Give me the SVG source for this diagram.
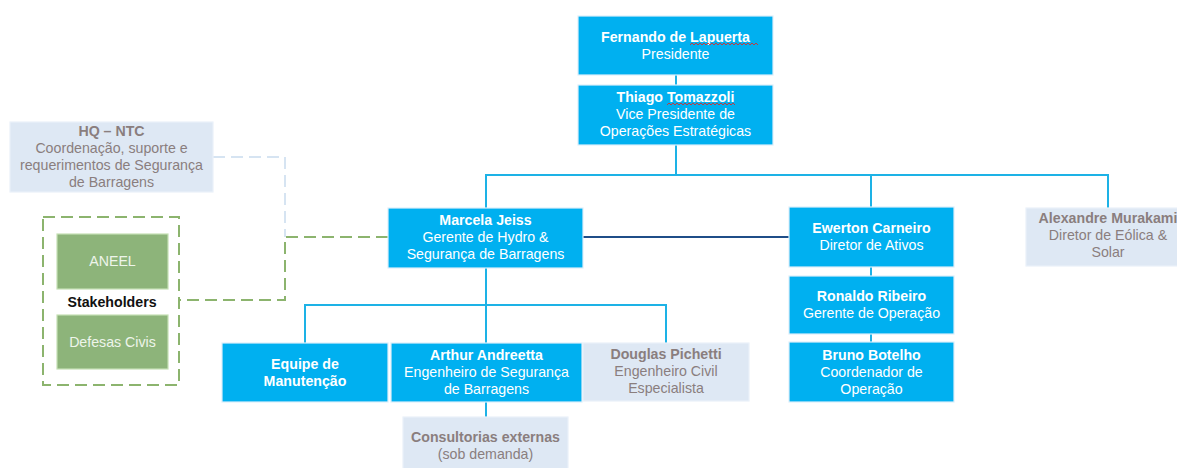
<svg xmlns="http://www.w3.org/2000/svg" width="1177" height="468" viewBox="0 0 1177 468">
<style>
text{font-family:"Liberation Sans",Arial,sans-serif;font-size:14.2px;text-anchor:middle}
.b{font-weight:bold}
.blue rect{fill:#00B0F0;stroke:#DDEFFA;stroke-width:1.2}
.blue text{fill:#FFFFFF}
.light rect{fill:#DEE8F4;stroke:#EAF1F9;stroke-width:1.2}
.light text{fill:#8A7E7E}
.green rect{fill:#8DB47A;stroke:#C5E0B4;stroke-width:1.2}
.green text{fill:#EEF4EA}
.c{fill:none;stroke:#1DB2E6;stroke-width:2}
.dk{fill:none;stroke:#1F4E88;stroke-width:2}
.gd{fill:none;stroke:#8CB46E;stroke-width:2;stroke-dasharray:12 6}
.ld{fill:none;stroke:#D6E4F2;stroke-width:2;stroke-dasharray:12 6}
.sq{fill:none;stroke:#D03030;stroke-width:0.9}
</style>
<g id="connectors">
<path class="c" d="M676 75V85"/>
<path class="c" d="M676 145V175"/>
<path class="c" d="M486 208V175H1108V208"/>
<path class="c" d="M871 175V207"/>
<path class="c" d="M871 267V276"/>
<path class="c" d="M871 334V342"/>
<path class="c" d="M486 268V343"/>
<path class="c" d="M305 343V305H666V343"/>
<path class="c" d="M486 402V417"/>
<path class="dk" d="M583 237H789"/>
<path class="ld" d="M213 157H285V237"/>
<path class="gd" d="M388 237H285V300H180"/>
</g>
<g id="fernando" class="blue">
<rect x="578" y="16" width="195" height="59"/>
<text class="b" x="675.5" y="42">Fernando de Lapuerta</text>
<text x="675.5" y="59">Presidente</text>
<path class="sq" d="M690 45l2 -2 2 2 2 -2 2 2 2 -2 2 2 2 -2 2 2 2 -2 2 2 2 -2 2 2 2 -2 2 2 2 -2 2 2 2 -2 2 2 2 -2 2 2 2 -2 2 2 2 -2 2 2 2 -2 2 2 2 -2 2 2 2 -2 2 2 2 -2 2 2 2 -2 2 2"/>
</g>
<g id="thiago" class="blue">
<rect x="578" y="85" width="195" height="60"/>
<text class="b" x="675.5" y="102">Thiago Tomazzoli</text>
<text x="675.5" y="119">Vice Presidente de</text>
<text x="675.5" y="136">Operações Estratégicas</text>
<path class="sq" d="M667 105l2 -2 2 2 2 -2 2 2 2 -2 2 2 2 -2 2 2 2 -2 2 2 2 -2 2 2 2 -2 2 2 2 -2 2 2 2 -2 2 2 2 -2 2 2 2 -2 2 2 2 -2 2 2 2 -2 2 2 2 -2 2 2 2 -2 2 2 2 -2 2 2 2 -2 2 2"/>
</g>
<g id="hq-ntc" class="light">
<rect x="10" y="122" width="203" height="70"/>
<text class="b" x="111.5" y="136">HQ – NTC</text>
<text x="111.5" y="153">Coordenação, suporte e</text>
<text x="111.5" y="170">requerimentos de Segurança</text>
<text x="111.5" y="187">de Barragens</text>
</g>
<g id="stakeholders">
<rect class="gd" x="43" y="217" width="136" height="168"/>
<text class="b" x="112" y="307" fill="#111111">Stakeholders</text>
</g>
<g id="aneel" class="green">
<rect x="57" y="234" width="111" height="55"/>
<text x="112.5" y="266">ANEEL</text>
</g>
<g id="defesas" class="green">
<rect x="57" y="315" width="111" height="54"/>
<text x="112.5" y="347">Defesas Civis</text>
</g>
<g id="marcela" class="blue">
<rect x="388" y="208" width="195" height="60"/>
<text class="b" x="485.5" y="225">Marcela Jeiss</text>
<text x="485.5" y="242">Gerente de Hydro &amp;</text>
<text x="485.5" y="259">Segurança de Barragens</text>
</g>
<g id="ewerton" class="blue">
<rect x="789" y="207" width="165" height="60"/>
<text class="b" x="871.5" y="233">Ewerton Carneiro</text>
<text x="871.5" y="250">Diretor de Ativos</text>
</g>
<g id="alexandre" class="light">
<rect x="1026" y="208" width="165" height="58"/>
<text class="b" x="1108" y="223">Alexandre Murakami</text>
<text x="1108" y="240">Diretor de Eólica &amp;</text>
<text x="1108" y="257">Solar</text>
</g>
<g id="ronaldo" class="blue">
<rect x="789" y="276" width="165" height="58"/>
<text class="b" x="871.5" y="301">Ronaldo Ribeiro</text>
<text x="871.5" y="318">Gerente de Operação</text>
</g>
<g id="bruno" class="blue">
<rect x="789" y="342" width="165" height="60"/>
<text class="b" x="871.5" y="360">Bruno Botelho</text>
<text x="871.5" y="377">Coordenador de</text>
<text x="871.5" y="394">Operação</text>
</g>
<g id="equipe" class="blue">
<rect x="222" y="343" width="166" height="59"/>
<text class="b" x="305" y="369">Equipe de</text>
<text class="b" x="305" y="386">Manutenção</text>
</g>
<g id="arthur" class="blue">
<rect x="391" y="343" width="191" height="59"/>
<text class="b" x="486.5" y="360">Arthur Andreetta</text>
<text x="486.5" y="377">Engenheiro de Segurança</text>
<text x="486.5" y="394">de Barragens</text>
</g>
<g id="douglas" class="light">
<rect x="583" y="343" width="166" height="58"/>
<text class="b" x="666" y="359">Douglas Pichetti</text>
<text x="666" y="376">Engenheiro Civil</text>
<text x="666" y="393">Especialista</text>
</g>
<g id="consultorias" class="light">
<rect x="403" y="417" width="165" height="55"/>
<text class="b" x="485.5" y="442">Consultorias externas</text>
<text x="485.5" y="459">(sob demanda)</text>
</g>
</svg>
